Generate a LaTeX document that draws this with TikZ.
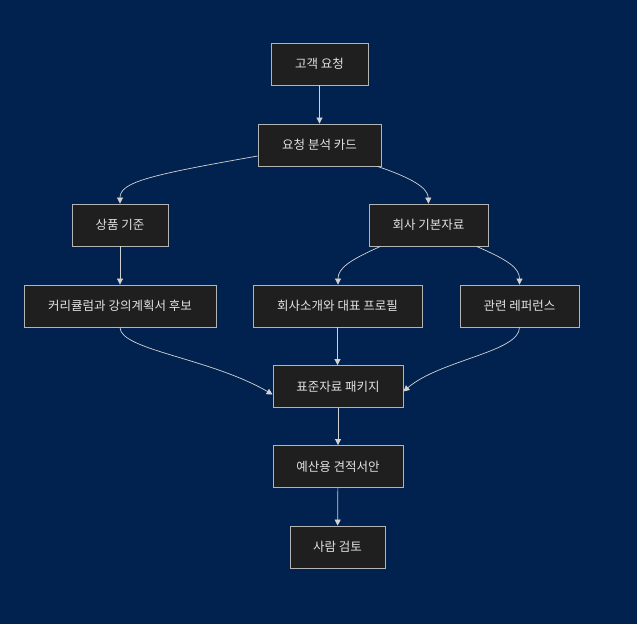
\documentclass[tikz,border=0pt]{standalone}
\usepackage{fontspec}
\newfontfamily\krfont{Noto Sans CJK KR}
\usepackage{xcolor}
\usepackage{tikz}
\usetikzlibrary{positioning,arrows.meta,calc}
\definecolor{navy}{HTML}{01224F}
\definecolor{boxfill}{HTML}{1F1F1F}
\definecolor{boxline}{HTML}{B4B4B4}
\definecolor{linkgray}{HTML}{D2D2D2}
\definecolor{txt}{HTML}{E2E2E2}

\begin{document}
\begin{tikzpicture}[x=1pt,y=-1pt,
  box/.style={draw=boxline,line width=0.8pt,fill=boxfill,text=txt,font=\krfont\fontsize{12.5}{14}\selectfont,
    minimum height=42pt,inner xsep=0pt,inner ysep=0pt},
  link/.style={draw=linkgray,line width=0.7pt,-{Triangle[length=6pt,width=6pt]}}]
  \fill[navy] (0,0) rectangle (637,624);
  % nodes
  \node[box,minimum width=97pt]  (req)  at (319.5,64)  {고객 요청};
  \node[box,minimum width=123pt] (card) at (319.5,145) {요청 분석 카드};
  \node[box,minimum width=96pt]  (std)  at (120,225)   {상품 기준};
  \node[box,minimum width=119pt] (base) at (428.5,225) {회사 기본자료};
  \node[box,minimum width=192pt] (curr) at (120,306)   {커리큘럼과 강의계획서 후보};
  \node[box,minimum width=169pt] (prof) at (337.5,306) {회사소개와 대표 프로필};
  \node[box,minimum width=119pt] (ref)  at (519.5,306) {관련 레퍼런스};
  \node[box,minimum width=130pt] (pkg)  at (338,386.5) {표준자료 패키지};
  \node[box,minimum width=130pt] (est)  at (338,466.5) {예산용 견적서안};
  \node[box,minimum width=95pt]  (rev)  at (337.5,547) {사람 검토};
  % links
  \draw[link] (req) -- (card);
  \draw[link] ([yshift=-11pt]card.west) .. controls (150,175) and (120,182) .. (std.north);
  \draw[link] ([xshift=-4pt]card.south east) .. controls (412,178) and (428,188) .. (base.north);
  \draw[link] (std) -- (curr);
  \draw[link] ([xshift=-48pt]base.south) .. controls (350,260) and (338,268) .. ([xshift=0.5pt]prof.north);
  \draw[link] ([xshift=48pt]base.south) .. controls (508,260) and (519.5,268) .. (ref.north);
  \draw[link] (curr.south) .. controls (120,350) and (210,358) .. ([yshift=-8pt]pkg.west);
  \draw[link] (prof.south) -- ([xshift=-0.5pt]pkg.north);
  \draw[link] (ref.south) .. controls (519.5,352) and (440,360) .. ([yshift=-5pt]pkg.east);
  \draw[link] (pkg) -- (est);
  \draw[link] (est) -- (rev);
\end{tikzpicture}
\end{document}
